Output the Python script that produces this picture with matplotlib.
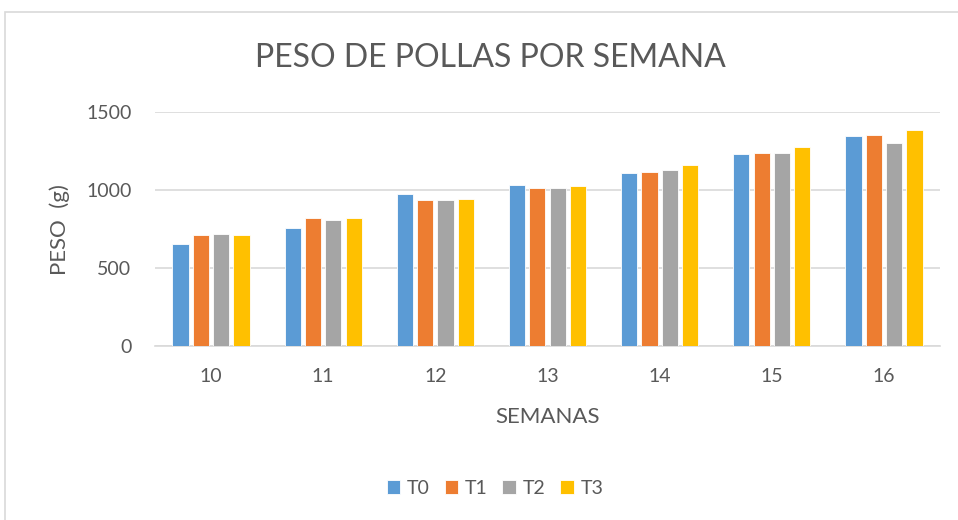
import matplotlib
matplotlib.use("Agg")
import matplotlib.pyplot as plt
import numpy as np
from matplotlib.patches import Rectangle

weeks = ["10", "11", "12", "13", "14", "15", "16"]
series_names = ["T0", "T1", "T2", "T3"]
t0 = [656, 754, 973, 1029, 1112, 1228, 1344]
t1 = [709, 819, 939, 1016, 1114, 1239, 1354]
t2 = [716, 806, 934, 1011, 1131, 1236, 1299]
t3 = [709, 819, 945, 1024, 1159, 1275, 1384]
colors = ["#5B9BD5", "#ED7D31", "#A5A5A5", "#FFC000"]

plt.rcParams['font.family'] = ['Lato', 'DejaVu Sans']
txt = "#595959"

fig = plt.figure(figsize=(9.58, 5.2), dpi=100)
fig.patches.append(Rectangle((5/958, -0.01), 1.0, 1 - 12/520 + 0.01, transform=fig.transFigure,
                             fill=False, edgecolor="#D9D9D9", linewidth=1.2))
ax = fig.add_axes([155/958, 1 - 346/520, (940 - 155)/958, (346 - 112)/520])

x = np.arange(len(weeks))
pitch = 0.181
width = 0.145
for i, (vals, c, name) in enumerate(zip([t0, t1, t2, t3], colors, series_names)):
    ax.bar(x + (i - 1.5) * pitch, vals, width=width, color=c, label=name,
           edgecolor="white", linewidth=0.6, zorder=3)

ax.set_xlim(-0.5, len(weeks) - 0.5)
ax.set_ylim(0, 1500)
ax.set_yticks([0, 500, 1000, 1500])
ax.set_xticks(x)
ax.set_xticklabels(weeks)
ax.yaxis.grid(True, color="#D9D9D9", linewidth=1.2, zorder=0)
for s in ["top", "right", "left"]:
    ax.spines[s].set_visible(False)
ax.spines["bottom"].set_color("#D9D9D9")
ax.spines["bottom"].set_linewidth(1.2)
ax.tick_params(axis="both", length=0, labelsize=14, colors=txt)
ax.tick_params(axis="x", pad=16)
ax.tick_params(axis="y", pad=17)

fig.text(547.5/958, 1 - 417/520, "SEMANAS", fontsize=16, color=txt, ha="center", va="center")
fig.text(60/958, 1 - 230/520, "PESO  (g)", fontsize=16, color=txt, ha="center", va="center",
         rotation=90)
fig.text(490/958, 1 - 58/520, "PESO DE POLLAS POR SEMANA", fontsize=23, color=txt,
         ha="center", va="center")

leg = fig.legend(loc="center", bbox_to_anchor=(495/958, 1 - 488/520), ncol=4, frameon=False,
                 fontsize=14, handlelength=0.7, handleheight=0.7, handletextpad=0.35,
                 columnspacing=0.75, labelcolor=txt)

fig.savefig("out.png", dpi=100)
